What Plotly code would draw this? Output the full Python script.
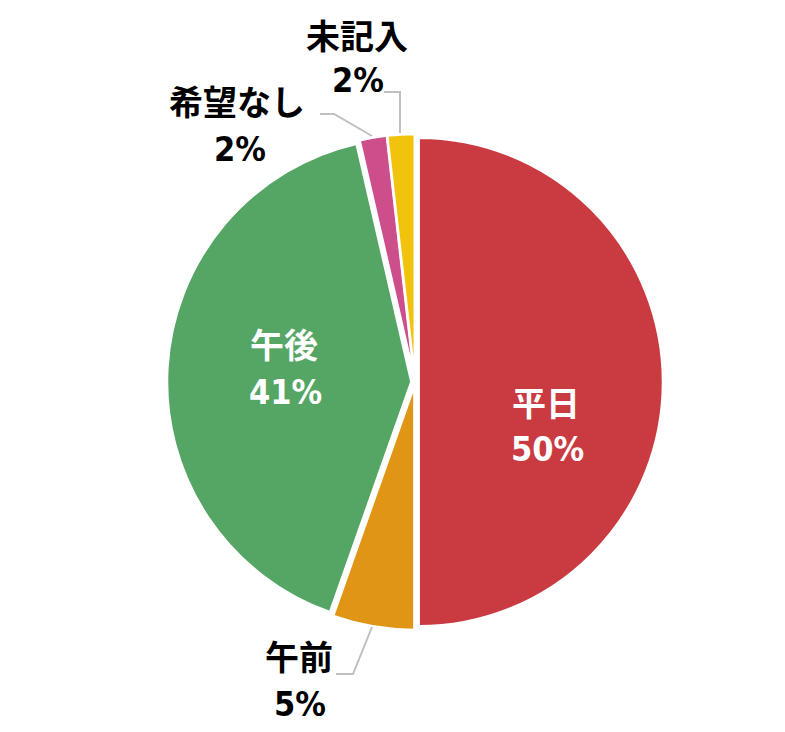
import plotly.graph_objects as go

# 希望日の内訳
labels = ["平日", "午前", "午後", "希望なし", "未記入"]
values = [50.0, 5.4, 41.0, 1.8, 1.8]
colors = ["#C93A41", "#E09515", "#55A565", "#CC4F8C", "#F2C30C"]

W, H = 785, 732
OFF = 8  # page body margin
CX, CY, R = 415, 382, 248  # pie box centre / half size in px


def px(x):
    return (x - OFF) / W


def py(y):
    return 1 - (y - OFF) / H


fig = go.Figure()

fig.add_trace(go.Pie(
    labels=labels,
    values=values,
    sort=False,
    direction="clockwise",
    rotation=0,
    pull=0.015,
    marker=dict(colors=colors, line=dict(color="white", width=2.5)),
    textinfo="none",
    hoverinfo="label+percent",
    domain=dict(x=[px(CX - R), px(CX + R)], y=[py(CY + R), py(CY - R)]),
    showlegend=False,
))

# label placement (px): name centre, percent centre, text colour
label_pos = {
    "平日": ((546, 401), (547, 449), "white"),
    "午前": ((299, 655), (300, 704), "black"),
    "午後": ((284, 343), (285, 392), "white"),
    "希望なし": ((237, 101), (240, 149), "black"),
    "未記入": ((357, 35), (358, 80), "black"),
}

pct_family = ("Liberation Sans Narrow, DejaVu Sans Condensed, Roboto Condensed, "
              "Arial Narrow, Liberation Sans, sans-serif")
total = sum(values)
for lab, val in zip(labels, values):
    (nx, ny), (qx, qy), col = label_pos[lab]
    fig.add_annotation(x=px(nx), y=py(ny), xref="paper", yref="paper",
                       text=lab, showarrow=False, xanchor="center", yanchor="middle",
                       font=dict(family="Noto Sans CJK JP", size=34, color=col, weight="bold"))
    fig.add_annotation(x=px(qx), y=py(qy), xref="paper", yref="paper",
                       text=f"{round(val / total * 100)}%", showarrow=False,
                       xanchor="center", yanchor="middle",
                       font=dict(family=pct_family, size=34, color=col, weight="bold"))

# leader lines for the small slices
leaders = [
    [(400, 133), (400, 92), (384, 92)],
    [(372, 136), (334, 114), (320, 114)],
    [(372, 627), (353, 674), (336, 674)],
]
for pts in leaders:
    path = "M " + " L ".join(f"{px(x)},{py(y)}" for x, y in pts)
    fig.add_shape(type="path", path=path, xref="paper", yref="paper",
                  line=dict(color="#BFBFBF", width=2))

fig.update_layout(
    width=W, height=H,
    margin=dict(l=0, r=0, t=0, b=0),
    paper_bgcolor="white",
    plot_bgcolor="white",
)

fig.write_html("out.html")
